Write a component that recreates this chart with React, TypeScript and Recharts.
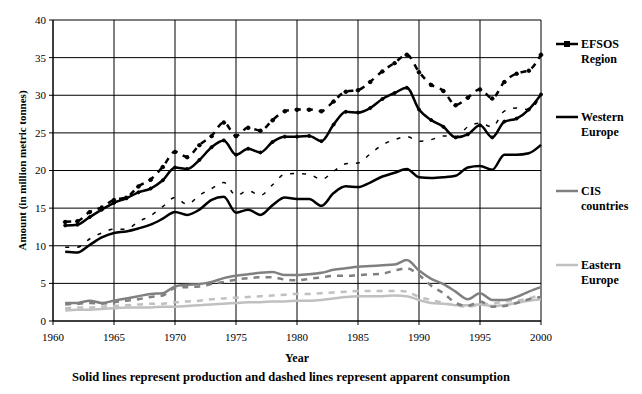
import React from "react";
import { LineChart, Line, XAxis, YAxis, CartesianGrid } from "recharts";

const years = [
  1961, 1962, 1963, 1964, 1965, 1966, 1967, 1968, 1969, 1970,
  1971, 1972, 1973, 1974, 1975, 1976, 1977, 1978, 1979, 1980,
  1981, 1982, 1983, 1984, 1985, 1986, 1987, 1988, 1989, 1990,
  1991, 1992, 1993, 1994, 1995, 1996, 1997, 1998, 1999, 2000,
];

// production (solid) and apparent consumption (dashed), million metric tonnes
const efsosProd = [
  12.7, 12.8, 13.8, 14.8, 15.7, 16.3, 17.1, 17.6, 18.7, 20.4,
  20.2, 21.4, 23.1, 24.0, 22.1, 22.9, 22.4, 23.8, 24.5, 24.5,
  24.6, 23.9, 26.1, 27.8, 27.7, 28.3, 29.5, 30.3, 31.0, 28.1,
  26.7, 25.8, 24.4, 24.8, 26.0, 24.4, 26.5, 26.9, 28.1, 30.1,
];
const efsosCons = [
  13.2, 13.3, 14.5, 15.1, 16.1, 16.4, 17.9, 18.8, 20.5, 22.5,
  21.8, 23.4, 24.6, 26.4, 24.6, 25.7, 25.3, 26.7, 27.9, 28.1,
  28.1, 27.9, 29.2, 30.5, 30.7, 31.8, 33.2, 34.3, 35.4, 33.1,
  31.4, 30.6, 28.7, 29.7, 30.8, 29.6, 31.8, 32.9, 33.3, 35.4,
];
const weProd = [
  9.2, 9.1, 10.1, 11.1, 11.7, 11.9, 12.3, 12.8, 13.6, 14.5,
  14.1, 14.8, 16.1, 16.5, 14.4, 14.8, 14.1, 15.4, 16.4, 16.2,
  16.2, 15.3, 17.0, 17.9, 17.8, 18.4, 19.2, 19.7, 20.2, 19.1,
  19.0, 19.1, 19.3, 20.4, 20.6, 20.1, 22.1, 22.1, 22.3, 23.4,
];
const weCons = [
  9.8, 9.8, 10.9, 11.7, 12.2, 12.2, 13.2, 14.0, 15.2, 16.4,
  15.5, 16.7, 17.6, 18.4, 16.7, 17.3, 16.7, 18.1, 19.5, 19.6,
  19.5, 18.8, 19.9, 20.9, 21.0, 22.2, 23.4, 24.1, 24.5, 23.9,
  24.1, 24.6, 24.5, 25.8, 26.3, 25.8, 27.9, 28.3, 28.1, 30.0,
];
const cisProd = [
  2.4, 2.4, 2.7, 2.4, 2.7, 3.0, 3.3, 3.6, 3.7, 4.6,
  4.8, 4.9, 5.2, 5.7, 6.0, 6.2, 6.4, 6.5, 6.1, 6.1,
  6.2, 6.4, 6.8, 7.0, 7.2, 7.3, 7.4, 7.5, 8.1, 6.7,
  5.6, 4.9, 3.9, 2.9, 3.7, 2.8, 2.8, 3.2, 3.9, 4.5,
];
const cisCons = [
  2.2, 2.3, 2.4, 2.3, 2.5, 2.7, 2.9, 3.2, 3.4, 4.4,
  4.5, 4.6, 4.9, 5.2, 5.5, 5.7, 5.8, 5.8, 5.5, 5.4,
  5.6, 5.8, 6.0, 6.0, 6.1, 6.2, 6.3, 6.7, 7.0, 6.1,
  4.7, 3.7, 2.4, 2.0, 2.6, 1.9, 2.0, 2.4, 2.9, 3.2,
];
const eeProd = [
  1.4, 1.5, 1.5, 1.6, 1.7, 1.8, 1.8, 1.8, 1.9, 1.9,
  2.0, 2.1, 2.2, 2.3, 2.4, 2.5, 2.5, 2.6, 2.6, 2.7,
  2.7, 2.8, 3.0, 3.2, 3.3, 3.3, 3.3, 3.4, 3.3, 2.8,
  2.4, 2.3, 2.1, 2.1, 2.2, 2.0, 2.1, 2.4, 2.7, 2.9,
];
const eeCons = [
  1.7, 1.8, 1.8, 1.9, 2.0, 2.1, 2.2, 2.3, 2.3, 2.5,
  2.6, 2.7, 2.9, 3.0, 3.1, 3.2, 3.3, 3.4, 3.5, 3.6,
  3.6, 3.7, 3.8, 3.9, 4.0, 4.0, 4.0, 4.0, 3.9, 3.2,
  2.8, 2.4, 2.1, 1.9, 2.2, 2.3, 2.6, 2.7, 3.0, 3.5,
];

const xTicks = [1960, 1965, 1970, 1975, 1980, 1985, 1990, 1995, 2000];
const yTicks = [0, 5, 10, 15, 20, 25, 30, 35, 40];

const legendItems = [
  { lines: ["EFSOS", "Region"], color: "#000000", marker: true },
  { lines: ["Western", "Europe"], color: "#000000", marker: false },
  { lines: ["CIS", "countries"], color: "#808080", marker: false },
  { lines: ["Eastern", "Europe"], color: "#c0c0c0", marker: false },
];

const chartData = years.map((year, i) => ({
  year,
  efsosProd: efsosProd[i],
  efsosCons: efsosCons[i],
  weProd: weProd[i],
  weCons: weCons[i],
  cisProd: cisProd[i],
  cisCons: cisCons[i],
  eeProd: eeProd[i],
  eeCons: eeCons[i],
}));

const font = "'Liberation Serif', 'Times New Roman', serif";

const App = () => {
  const legendTops = [44, 117, 191, 265];
  return (
    <div
      style={{
        position: "absolute",
        left: 0,
        top: 0,
        width: 642,
        height: 394,
        background: "#fff",
        fontFamily: font,
      }}
    >
      <LineChart
        width={642}
        height={394}
        data={chartData}
        margin={{ top: 20, right: 101, bottom: 53, left: 18 }}
      >
        <CartesianGrid stroke="#000" strokeWidth={1} horizontal vertical />
        <XAxis
          dataKey="year"
          type="number"
          domain={[1960, 2000]}
          ticks={xTicks}
          height={20}
          stroke="#000"
          tickSize={4}
          tickMargin={8}
          tick={{ fontSize: 11, fill: "#000", fontFamily: font }}
        />
        <YAxis
          type="number"
          domain={[0, 40]}
          ticks={yTicks}
          width={35}
          stroke="#000"
          tickSize={4}
          tickMargin={3}
          tick={{ fontSize: 11, fill: "#000", fontFamily: font }}
          label={{
            value: "Amount (in million metric tonnes)",
            angle: -90,
            position: "insideLeft",
            offset: 4,
            style: {
              fontSize: 11,
              fontWeight: "bold",
              fill: "#000",
              fontFamily: font,
              textAnchor: "middle",
            },
          }}
        />
        <Line
          type="monotone"
          dataKey="eeCons"
          stroke="#c0c0c0"
          strokeWidth={2.5}
          strokeDasharray="6 6"
          dot={false}
          isAnimationActive={false}
        />
        <Line
          type="monotone"
          dataKey="eeProd"
          stroke="#c0c0c0"
          strokeWidth={2.5}
          dot={false}
          isAnimationActive={false}
        />
        <Line
          type="monotone"
          dataKey="cisCons"
          stroke="#808080"
          strokeWidth={2.5}
          strokeDasharray="6 6"
          dot={false}
          isAnimationActive={false}
        />
        <Line
          type="monotone"
          dataKey="cisProd"
          stroke="#808080"
          strokeWidth={2.5}
          dot={false}
          isAnimationActive={false}
        />
        <Line
          type="monotone"
          dataKey="weCons"
          stroke="#000"
          strokeWidth={1.5}
          strokeDasharray="4 8"
          dot={false}
          isAnimationActive={false}
        />
        <Line
          type="monotone"
          dataKey="weProd"
          stroke="#000"
          strokeWidth={2.5}
          dot={false}
          isAnimationActive={false}
        />
        <Line
          type="monotone"
          dataKey="efsosCons"
          stroke="#000"
          strokeWidth={2.5}
          strokeDasharray="6 6"
          dot={{ r: 2, fill: "#000", stroke: "#000", strokeWidth: 1 }}
          isAnimationActive={false}
        />
        <Line
          type="monotone"
          dataKey="efsosProd"
          stroke="#000"
          strokeWidth={2.5}
          dot={{ r: 1.5, fill: "#000", stroke: "#000", strokeWidth: 1 }}
          isAnimationActive={false}
        />
      </LineChart>

      {legendItems.map((item, i) => (
        <div
          key={item.lines[0]}
          style={{
            position: "absolute",
            left: 556,
            top: legendTops[i] - 8,
            display: "flex",
            alignItems: "flex-start",
          }}
        >
          <svg width={25} height={16}>
            <line x1={0} y1={8} x2={22} y2={8} stroke={item.color} strokeWidth={2.5} />
            {item.marker && <rect x={8} y={5} width={6} height={6} fill="#000" />}
          </svg>
          <div
            style={{
              fontSize: 12,
              fontWeight: "bold",
              lineHeight: "15px",
              color: "#000",
              marginTop: 1,
            }}
          >
            {item.lines[0]}
            <br />
            {item.lines[1]}
          </div>
        </div>
      ))}

      <div
        style={{
          position: "absolute",
          left: 53,
          width: 488,
          top: 351,
          textAlign: "center",
          fontSize: 12,
          fontWeight: "bold",
        }}
      >
        Year
      </div>
      <div
        style={{
          position: "absolute",
          left: 0,
          width: 582,
          top: 370,
          textAlign: "center",
          fontSize: 12.5,
          fontWeight: "bold",
        }}
      >
        Solid lines represent production and dashed lines represent apparent consumption
      </div>
    </div>
  );
};

export default App;
